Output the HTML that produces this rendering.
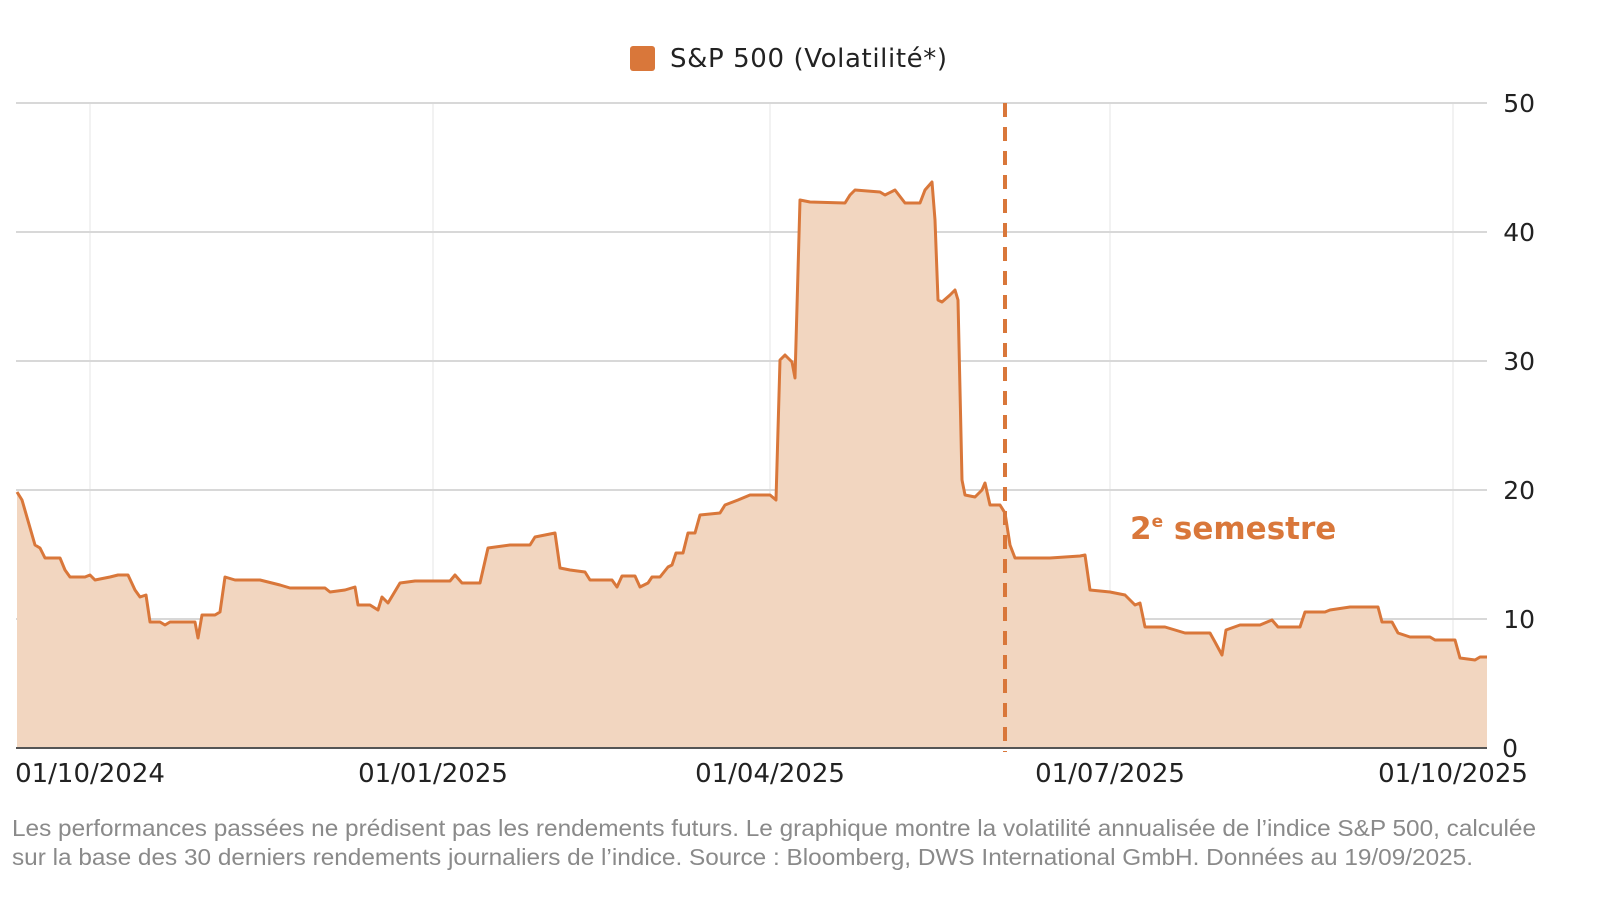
<!DOCTYPE html>
<html><head><meta charset="utf-8"><style>
body{margin:0;background:#fff;width:1598px;height:924px;overflow:hidden}
svg{position:absolute;left:0;top:0}
.t{font-family:"DejaVu Sans",sans-serif;fill:#222}
.f{font-family:"Liberation Sans",sans-serif;fill:#8a8a8a;font-size:23px}
</style></head><body>
<svg width="1598" height="924" viewBox="0 0 1598 924">
<g stroke="#e6e6e6" stroke-width="1">
<line x1="90" y1="103" x2="90" y2="748"/><line x1="433" y1="103" x2="433" y2="748"/><line x1="770" y1="103" x2="770" y2="748"/><line x1="1110" y1="103" x2="1110" y2="748"/><line x1="1453" y1="103" x2="1453" y2="748"/>
</g>
<g stroke="#d8d8d8" stroke-width="2">
<line x1="16" y1="103" x2="1487" y2="103"/><line x1="16" y1="232" x2="1487" y2="232"/><line x1="16" y1="361" x2="1487" y2="361"/><line x1="16" y1="490" x2="1487" y2="490"/><line x1="16" y1="619" x2="1487" y2="619"/>
</g>
<polygon fill="#f2d6c0" stroke="none" points="17,748 17,492 22,500 35,545 40,548 45,558 60,558 65,570 70,577 85,577 90,575 95,580 110,577 118,575 128,575 135,590 140,597 146,595 150,622 160,622 165,625 170,622 195,622 198,638 202,615 215,615 220,612 225,577 235,580 260,580 280,585 290,588 325,588 330,592 345,590 355,587 358,605 370,605 378,610 382,597 388,603 400,583 415,581 450,581 455,575 462,583 480,583 488,548 510,545 530,545 535,537 555,533 560,568 570,570 585,572 590,580 612,580 617,587 622,576 635,576 640,587 648,583 652,577 660,577 668,567 672,565 676,553 683,553 688,533 695,533 700,515 720,513 725,505 738,500 750,495 770,495 776,500 780,360 785,355 792,362 795,378 800,200 810,202 845,203 850,195 855,190 880,192 885,195 895,190 905,203 920,203 925,190 932,182 935,220 938,300 942,302 950,295 955,290 958,300 962,480 965,495 975,497 982,490 985,483 990,505 1000,505 1005,513 1010,545 1015,558 1050,558 1080,556 1085,555 1090,590 1110,592 1125,595 1135,605 1140,603 1145,627 1165,627 1175,630 1185,633 1210,633 1215,642 1222,655 1226,630 1240,625 1260,625 1272,620 1278,627 1300,627 1305,612 1325,612 1330,610 1350,607 1378,607 1382,622 1392,622 1398,633 1410,637 1430,637 1435,640 1455,640 1460,658 1475,660 1480,657 1487,657 1487,748"/>
<polyline fill="none" stroke="#d9773a" stroke-width="3" stroke-linejoin="round" points="17,492 22,500 35,545 40,548 45,558 60,558 65,570 70,577 85,577 90,575 95,580 110,577 118,575 128,575 135,590 140,597 146,595 150,622 160,622 165,625 170,622 195,622 198,638 202,615 215,615 220,612 225,577 235,580 260,580 280,585 290,588 325,588 330,592 345,590 355,587 358,605 370,605 378,610 382,597 388,603 400,583 415,581 450,581 455,575 462,583 480,583 488,548 510,545 530,545 535,537 555,533 560,568 570,570 585,572 590,580 612,580 617,587 622,576 635,576 640,587 648,583 652,577 660,577 668,567 672,565 676,553 683,553 688,533 695,533 700,515 720,513 725,505 738,500 750,495 770,495 776,500 780,360 785,355 792,362 795,378 800,200 810,202 845,203 850,195 855,190 880,192 885,195 895,190 905,203 920,203 925,190 932,182 935,220 938,300 942,302 950,295 955,290 958,300 962,480 965,495 975,497 982,490 985,483 990,505 1000,505 1005,513 1010,545 1015,558 1050,558 1080,556 1085,555 1090,590 1110,592 1125,595 1135,605 1140,603 1145,627 1165,627 1175,630 1185,633 1210,633 1215,642 1222,655 1226,630 1240,625 1260,625 1272,620 1278,627 1300,627 1305,612 1325,612 1330,610 1350,607 1378,607 1382,622 1392,622 1398,633 1410,637 1430,637 1435,640 1455,640 1460,658 1475,660 1480,657 1487,657"/>
<line x1="16" y1="748" x2="1487" y2="748" stroke="#555" stroke-width="2"/>
<line x1="1005" y1="103" x2="1005" y2="752" stroke="#d9773a" stroke-width="4" stroke-dasharray="14,10"/>
<text x="1130" y="539" font-family="'DejaVu Sans',sans-serif" font-weight="bold" font-size="31" fill="#d9773a">2<tspan font-size="17" dy="-12">e</tspan><tspan dy="12"> semestre</tspan></text>
<rect x="630" y="46" width="25" height="25" rx="3" fill="#d9773a"/>
<text class="t" x="670" y="67" font-size="26" textLength="277">S&amp;P 500 (Volatilité*)</text>
<g class="t" font-size="25" text-anchor="end">
<text x="1535" y="112">50</text><text x="1535" y="241">40</text><text x="1535" y="370">30</text><text x="1535" y="499">20</text><text x="1535" y="628">10</text><text x="1518" y="757">0</text>
</g>
<g class="t" font-size="26" text-anchor="middle">
<text x="90" y="782">01/10/2024</text><text x="433" y="782">01/01/2025</text><text x="770" y="782">01/04/2025</text><text x="1110" y="782">01/07/2025</text><text x="1453" y="782">01/10/2025</text>
</g>
<text class="f" x="12" y="836" textLength="1524" lengthAdjust="spacingAndGlyphs">Les performances passées ne prédisent pas les rendements futurs. Le graphique montre la volatilité annualisée de l’indice S&amp;P 500, calculée</text>
<text class="f" x="12" y="865" textLength="1461" lengthAdjust="spacingAndGlyphs">sur la base des 30 derniers rendements journaliers de l’indice. Source : Bloomberg, DWS International GmbH. Données au 19/09/2025.</text>
</svg>
</body></html>
